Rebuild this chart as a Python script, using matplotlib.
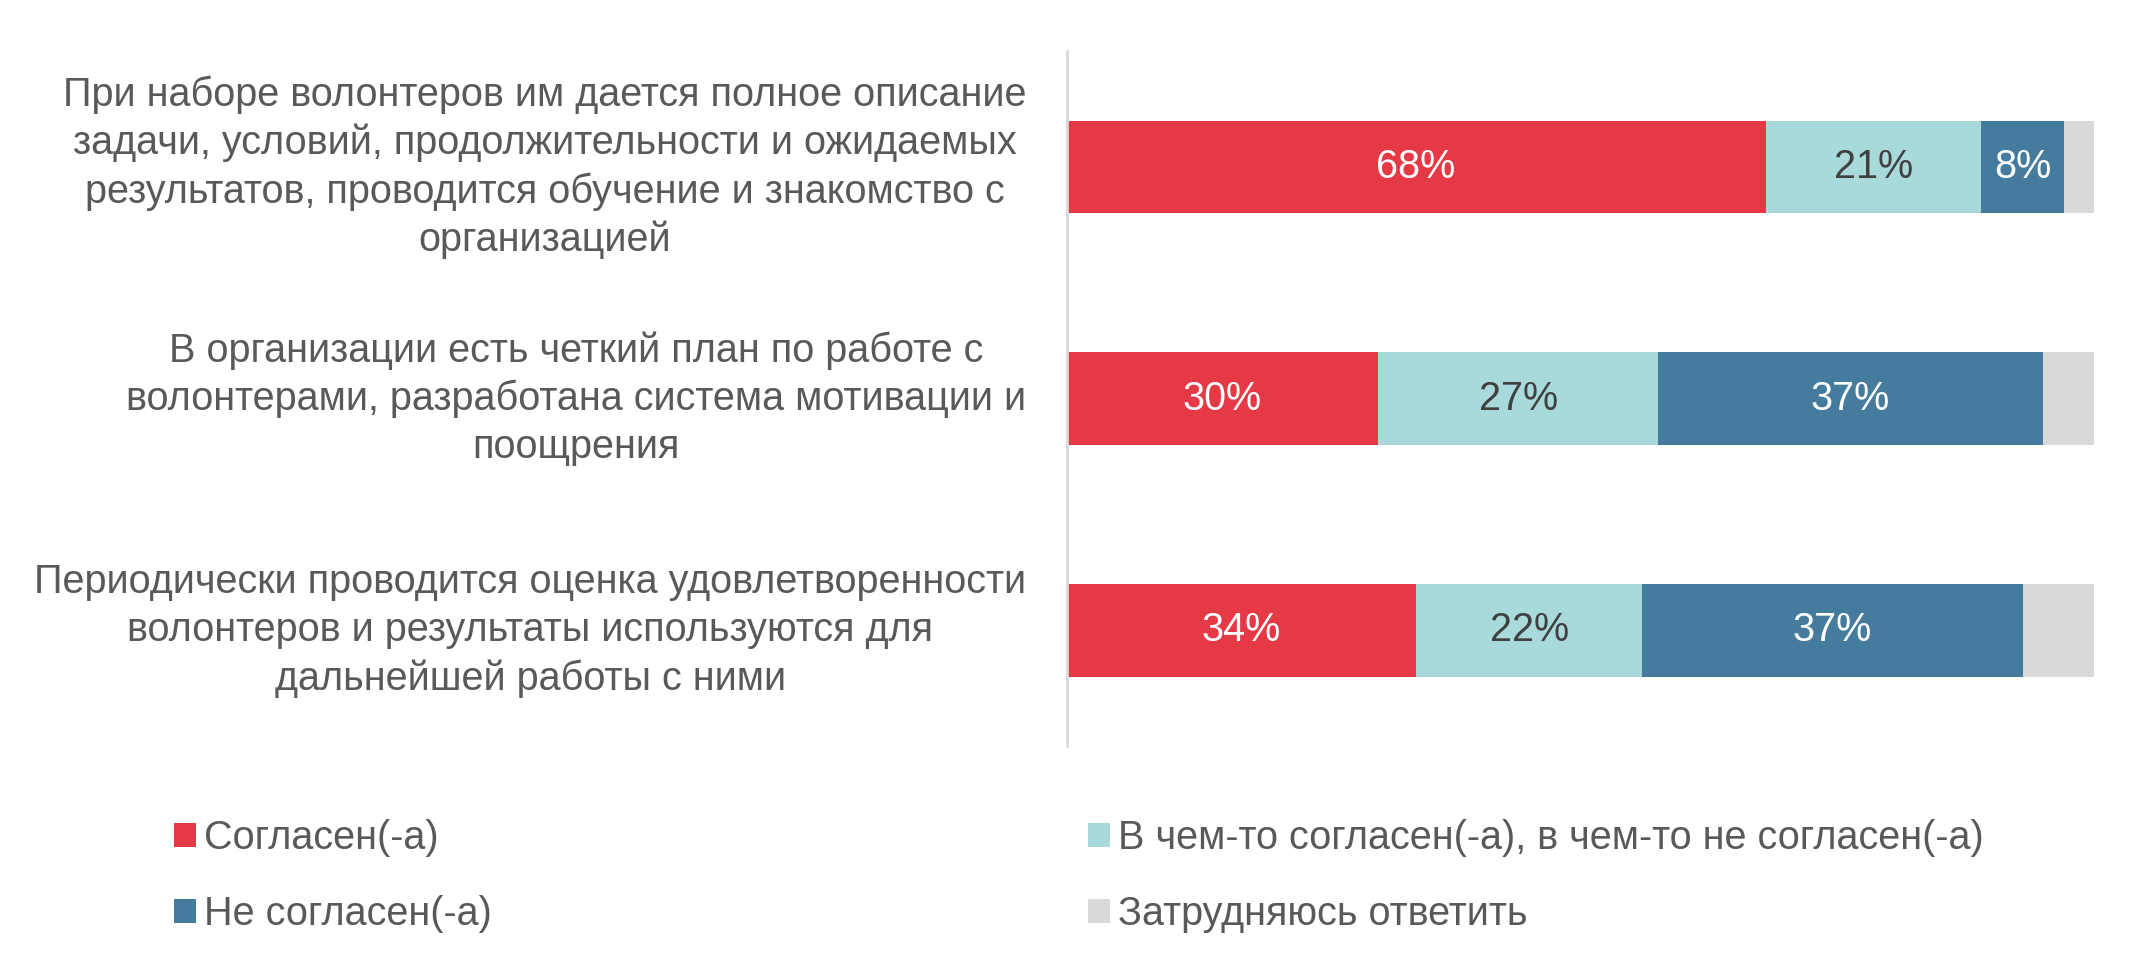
import matplotlib.pyplot as plt
import numpy as np

plt.rcParams['font.family'] = ['Liberation Sans', 'DejaVu Sans']

categories = [
    "При наборе волонтеров им дается полное описание\nзадачи, условий, продолжительности и ожидаемых\nрезультатов, проводится обучение и знакомство с\nорганизацией",
    "В организации есть четкий план по работе с\nволонтерами, разработана система мотивации и\nпоощрения",
    "Периодически проводится оценка удовлетворенности\nволонтеров и результаты используются для\nдальнейшей работы с ними",
]
series = ["Согласен(-а)", "В чем-то согласен(-а), в чем-то не согласен(-а)",
          "Не согласен(-а)", "Затрудняюсь ответить"]
agree = [68, 30, 34]
partly = [21, 27, 22]
disagree = [8, 37, 37]
unsure = [3, 5, 7]

colors = ["#E63946", "#A8DADC", "#457B9D", "#D9D9D9"]
label_colors = ["white", "#404040", "white", None]

data = np.array([agree, partly, disagree, unsure], dtype=float)
shares = data / data.sum(axis=0) * 100

fig = plt.figure(figsize=(21.46, 9.69), dpi=100)
ax = fig.add_axes([0.497, 0.230, 0.479, 0.717])

y = np.arange(len(categories))
left = np.zeros(len(categories))
bars = []
for i in range(4):
    b = ax.barh(y, shares[i], left=left, height=0.4, color=colors[i], label=series[i])
    bars.append(b)
    if label_colors[i]:
        for j in range(len(categories)):
            ax.text(left[j] + shares[i][j] / 2, y[j], f"{int(data[i][j])}%",
                    ha='center', va='center', fontsize=28.5, color=label_colors[i])
    left += shares[i]

ax.set_xlim(0, 100)
ax.set_ylim(len(categories) - 0.5, -0.5)
ax.set_yticks(y)
ax.set_yticklabels(categories, fontsize=28.5, color="#595959", va='center')
for t in ax.get_yticklabels():
    t.set_multialignment('center')
    t.set_linespacing(1.33)
ax.tick_params(axis='y', length=0, pad=29)
ax.set_xticks([])
for s in ['top', 'right', 'bottom']:
    ax.spines[s].set_visible(False)
ax.spines['left'].set_color("#D9D9D9")
ax.spines['left'].set_linewidth(2)

kw = dict(loc='center left', frameon=False, fontsize=28.5, handlelength=0.56,
          handleheight=0.56, handletextpad=0.2, labelspacing=0.98,
          borderpad=0, borderaxespad=0, labelcolor="#595959")
fig.legend([bars[0], bars[2]], [series[0], series[2]],
           bbox_to_anchor=(0.081, 0.096), **kw)
fig.legend([bars[1], bars[3]], [series[1], series[3]],
           bbox_to_anchor=(0.507, 0.096), **kw)

fig.savefig("out.png", dpi=100)
